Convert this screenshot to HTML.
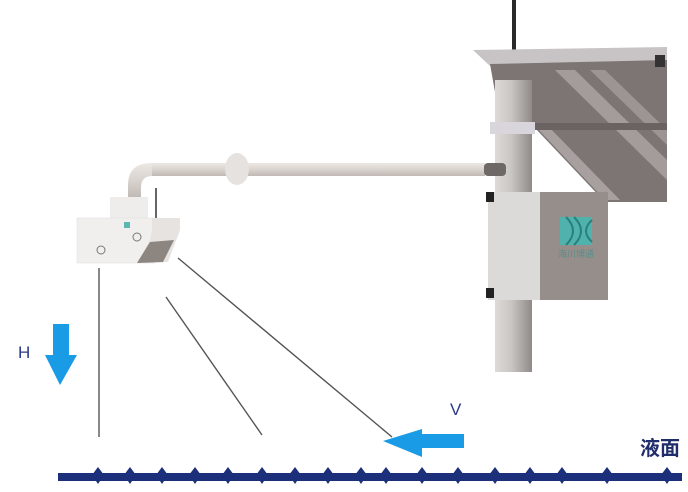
<!DOCTYPE html>
<html><head><meta charset="utf-8"><style>
html,body{margin:0;padding:0;background:#fff;}
svg{display:block;}
text{font-family:"Liberation Sans","Noto Sans CJK SC",sans-serif;}
</style></head><body>
<svg width="688" height="492" viewBox="0 0 688 492" xmlns="http://www.w3.org/2000/svg">
<defs>
<linearGradient id="pipe" x1="0" y1="0" x2="0" y2="1">
<stop offset="0" stop-color="#ece8e4"/><stop offset="0.5" stop-color="#d9d3cf"/><stop offset="1" stop-color="#bfb8b3"/>
</linearGradient>
<linearGradient id="pole" x1="0" y1="0" x2="1" y2="0">
<stop offset="0" stop-color="#dedad8"/><stop offset="0.45" stop-color="#c9c5c3"/><stop offset="1" stop-color="#8f8a88"/>
</linearGradient>
</defs>
<!-- antenna -->
<rect x="512" y="0" width="4" height="80" fill="#2a2a2a"/>
<!-- solar panel -->
<polygon points="473,50 667,47 667,62 490,66" fill="#c8c4c6"/>
<polygon points="490,64 667,60 667,202 605,202 535,128 500,120" fill="#7d7573"/>
<polygon points="555,70 575,70 667,160 667,180" fill="#a49c9a"/>
<polygon points="590,70 605,70 667,130 667,145" fill="#9d9593"/>
<polygon points="535,126 548,126 620,200 605,200" fill="#a8a09e"/>
<rect x="530" y="123" width="137" height="7" fill="#6a6361"/>
<rect x="655" y="55" width="10" height="12" fill="#333"/>
<!-- pole -->
<rect x="495" y="80" width="37" height="292" fill="url(#pole)"/>
<rect x="490" y="122" width="45" height="12" fill="#d8d6dc"/>
<!-- arm pipe -->
<rect x="150" y="163" width="335" height="13" fill="url(#pipe)"/>
<rect x="484" y="163" width="22" height="13" rx="4" fill="#6e6866"/>
<path d="M128,198 L128,185 Q128,163 152,163 L152,176 Q141,176 141,188 L141,198 Z" fill="url(#pipe)"/>
<ellipse cx="237" cy="169" rx="12" ry="16" fill="#e6e2df"/>
<!-- box -->
<rect x="488" y="192" width="52" height="108" fill="#dcdad8"/>
<rect x="540" y="192" width="68" height="108" fill="#958e8a"/>
<rect x="486" y="192" width="8" height="10" fill="#222"/>
<rect x="486" y="288" width="8" height="10" fill="#222"/>
<rect x="560" y="217" width="32" height="28" fill="#4fb2ac"/>
<path d="M566,245 Q580,231 566,217 M574,245 Q588,231 574,217 M592,220 Q580,231 592,242" stroke="#2b7f7a" stroke-width="2" fill="none"/>
<text x="576" y="257" font-size="9" fill="#5a8d8a" text-anchor="middle">海川博通</text>
<!-- sensor device -->
<rect x="110" y="197" width="38" height="22" fill="#efedeb"/>
<rect x="155" y="188" width="2" height="32" fill="#666"/>
<rect x="77" y="218" width="78" height="45" fill="#f1efee" stroke="#ddd" stroke-width="0.5"/>
<polygon points="152,218 180,218 180,230 168,262 137,263 150,240 152,230" fill="#e6e3e1"/>
<polygon points="150,242 174,240 163,262 137,263" fill="#8d857f"/>
<circle cx="101" cy="250" r="4" fill="none" stroke="#777" stroke-width="1"/>
<circle cx="137" cy="237" r="4" fill="none" stroke="#777" stroke-width="1"/>
<rect x="124" y="222" width="6" height="6" fill="#5bb7b0"/>
<!-- beams -->
<line x1="99" y1="268" x2="99" y2="437" stroke="#555" stroke-width="1.4"/>
<line x1="166" y1="297" x2="262" y2="435" stroke="#555" stroke-width="1.4"/>
<line x1="178" y1="258" x2="392" y2="437" stroke="#555" stroke-width="1.4"/>
<!-- H arrow -->
<text x="18" y="358" font-size="17" fill="#2a3a8a">H</text>
<polygon points="53,324 69,324 69,355 77,355 60,385 45,355 53,355" fill="#1a9be6"/>
<!-- V arrow -->
<text x="450" y="415" font-size="17" fill="#2a3a8a">V</text>
<polygon points="464,434 464,448 422,448 422,457 383,441 422,429 422,434" fill="#1a9be6"/>
<!-- liquid surface -->
<text x="640" y="455" font-size="20" font-weight="bold" fill="#1f2d6b">液面</text>
<rect x="58" y="473" width="624" height="8" fill="#1b2f7a"/>
<g fill="#1b2f7a">
<polygon points="92,475 98,467 104,475 98,484"/>
<polygon points="124,475 130,467 136,475 130,484"/>
<polygon points="156,475 162,467 168,475 162,484"/>
<polygon points="189,475 195,467 201,475 195,484"/>
<polygon points="222,475 228,467 234,475 228,484"/>
<polygon points="256,475 262,467 268,475 262,484"/>
<polygon points="289,475 295,467 301,475 295,484"/>
<polygon points="322,475 328,467 334,475 328,484"/>
<polygon points="355,475 361,467 367,475 361,484"/>
<polygon points="380,475 386,467 392,475 386,484"/>
<polygon points="416,475 422,467 428,475 422,484"/>
<polygon points="452,475 458,467 464,475 458,484"/>
<polygon points="489,475 495,467 501,475 495,484"/>
<polygon points="524,475 530,467 536,475 530,484"/>
<polygon points="556,475 562,467 568,475 562,484"/>
<polygon points="601,475 607,467 613,475 607,484"/>
<polygon points="661,475 667,467 673,475 667,484"/>
</g>
</svg>
</body></html>
